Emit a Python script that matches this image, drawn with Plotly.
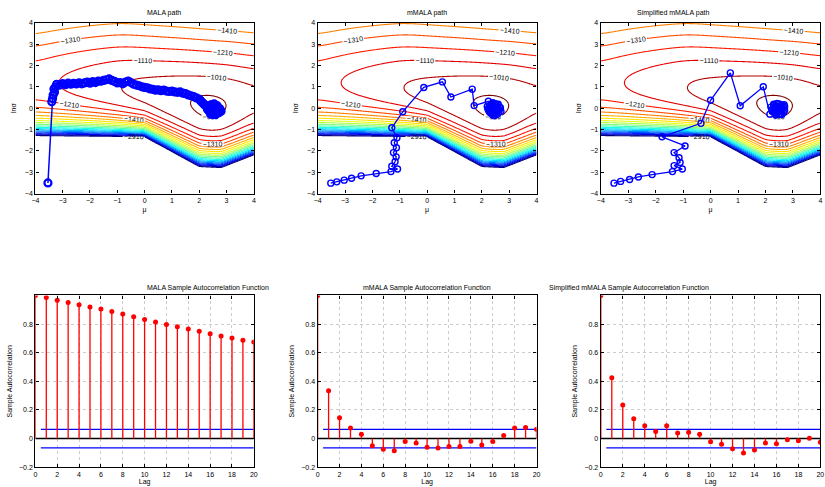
import numpy as np
import plotly.graph_objects as go

# ---------------- data ----------------
# log-density surface: ridge (crest) line, crest height, lower cliff
ridge_mu = [-4.0, -3.15, -2.0, -0.87, 0.5, 1.5, 2.4, 3.2, 4.0]
ridge_s = [1.2, 1.2, 1.12, 0.98, 0.6, 0.3, 0.0, 0.15, 0.4]
ridge_z = [-1150, -1110, -1060, -1010, -960, -918, -878, -918, -990]
cliff_mu = [-4.0, 0.0, 2.0, 2.8, 4.0]
cliff_s = [-1.3, -1.35, -2.75, -2.8, -2.2]
cliff_z = -2960
upper_slope = 215.0
upper_tau = 1.5
lower_beta = 3.3
level_lo, level_hi, level_step = -2910, -910, 100

# sampler paths (mu, ln sigma)
mala_mu = [-3.54, -3.40, -3.37, -3.35, -3.30, -3.32, -3.26, -3.22, -3.10, -3.00, -2.90, -2.80, -2.70, -2.60,
           -2.50, -2.40, -2.30, -2.20, -2.10, -2.00, -1.90, -1.80, -1.70, -1.60, -1.50, -1.40, -1.30, -1.20,
           -1.10, -1.00, -0.90, -0.80, -0.70, -0.60, -0.50, -0.40, -0.30, -0.20, -0.10, 0.00, 0.10, 0.20,
           0.30, 0.40, 0.50, 0.60, 0.70, 0.80, 0.90, 1.00, 1.10, 1.20, 1.30, 1.40, 1.50, 1.60, 1.70, 1.80,
           1.90, 2.00, 2.05, 2.10, 2.15, 2.20, 2.30, 2.45, 2.60, 2.70, 2.55, 2.40, 2.30, 2.50, 2.65, 2.75,
           2.60, 2.45, 2.35, 2.55, 2.70, 2.50, 2.40, 2.62, 2.80, 2.48, 2.35, 2.58, 2.42, 2.68, 2.52, 2.33,
           2.72, 2.46, 2.57, 2.38, 2.64, 2.51, 2.44, 2.78, 2.29, 2.60]
mala_s = [-3.50, 0.30, 0.45, 0.62, 0.75, 0.90, 1.00, 1.12, 1.08, 1.15, 1.10, 1.17, 1.12, 1.16,
          1.13, 1.19, 1.14, 1.18, 1.22, 1.17, 1.24, 1.20, 1.27, 1.26, 1.30, 1.33, 1.37, 1.30,
          1.25, 1.18, 1.20, 1.14, 1.22, 1.27, 1.20, 1.12, 1.08, 1.05, 1.00, 0.97, 0.95, 0.90,
          0.88, 0.84, 0.86, 0.82, 0.85, 0.80, 0.78, 0.80, 0.76, 0.74, 0.76, 0.70, 0.68, 0.62, 0.58, 0.54,
          0.48, 0.42, 0.35, 0.28, 0.22, 0.15, 0.10, 0.15, 0.05, -0.10, -0.25, -0.20, -0.05, 0.00, 0.12, -0.02,
          -0.30, -0.10, 0.05, 0.20, -0.20, -0.30, 0.08, -0.12, -0.15, -0.18, -0.12, 0.08, -0.28, -0.06, 0.10,
          0.00, -0.22, 0.04, -0.16, -0.08, 0.02, -0.24, 0.16, -0.10, 0.12, -0.02]

mmala_mu = [-3.52, -3.30, -3.03, -2.76, -2.41, -1.86, -1.32, -1.08, -1.29, -1.17, -1.13, -1.23, -1.12,
            -1.20, -1.10, -1.29, -0.89, -0.12, 0.56, 0.87, 1.65, 1.72, 2.24, 2.35, 2.50, 2.60, 2.30, 2.45,
            2.65, 2.40, 2.25, 2.55, 2.70, 2.35, 2.48, 2.30, 2.60, 2.42, 2.20, 2.52, 2.38, 2.62, 2.28, 2.46,
            2.56, 2.33, 2.68, 2.41, 2.22, 2.58, 2.36, 2.50, 2.44, 2.27, 2.64]
mmala_s = [-3.51, -3.45, -3.37, -3.28, -3.17, -3.06, -2.97, -2.85, -2.72, -2.51, -2.28, -2.08, -1.85,
           -1.62, -1.38, -0.92, -0.17, 0.97, 1.23, 0.52, 0.89, 0.12, 0.32, 0.10, 0.20, -0.05, -0.20, -0.35,
           0.05, 0.25, -0.10, -0.30, -0.15, 0.15, -0.05, 0.00, 0.18, -0.25, 0.08, -0.12, -0.30, -0.20,
           0.12, 0.22, 0.06, -0.22, 0.02, -0.14, -0.04, 0.14, 0.20, -0.26, 0.04, -0.16, -0.08]

smmala_mu = [-3.52, -3.28, -2.95, -2.63, -2.13, -1.39, -1.03, -1.33, -1.11, -1.15, -1.33, -0.93, -1.77,
             -0.35, 0.00, 0.72, 1.08, 1.92, 2.16, 2.35, 2.50, 2.65, 2.40, 2.25, 2.55, 2.70, 2.30, 2.45,
             2.60, 2.20, 2.50, 2.38, 2.62, 2.28, 2.48, 2.42, 2.66, 2.33, 2.56, 2.24, 2.52, 2.70, 2.36,
             2.46, 2.60, 2.30, 2.58, 2.40, 2.68]
smmala_s = [-3.51, -3.43, -3.34, -3.22, -3.11, -2.97, -2.85, -2.69, -2.54, -2.32, -2.08, -1.77, -1.34,
            -0.71, 0.37, 1.65, 0.11, 1.00, -0.28, 0.10, 0.20, 0.05, -0.25, -0.05, -0.30, -0.10, 0.18, 0.00,
            0.15, 0.05, -0.15, -0.32, -0.05, -0.18, 0.10, 0.22, -0.20, -0.10, 0.12, -0.12, -0.26, 0.08,
            0.04, -0.08, -0.28, 0.14, 0.02, -0.22, 0.16]

# sample autocorrelation functions, lags 0..20
lags = list(range(21))
acf_mala = [1.0, 0.985, 0.967, 0.950, 0.935, 0.920, 0.905, 0.888, 0.870, 0.852, 0.832,
            0.815, 0.798, 0.782, 0.766, 0.750, 0.732, 0.716, 0.702, 0.688, 0.675]
acf_mmala = [1.0, 0.335, 0.145, 0.075, 0.030, -0.050, -0.075, -0.085, -0.020, -0.030, -0.060,
             -0.065, -0.055, -0.055, -0.018, -0.045, -0.020, 0.022, 0.075, 0.078, 0.065]
acf_smmala = [1.0, 0.425, 0.235, 0.138, 0.090, 0.050, 0.090, 0.040, 0.045, 0.030, -0.022,
              -0.040, -0.070, -0.100, -0.080, -0.030, -0.035, -0.008, -0.015, 0.002, -0.025]
conf_bound = 0.065
conf_start = 0.5

top_titles = ["MALA path", "mMALA path", "Simplified mMALA path"]
bottom_titles = ["MALA Sample Autocorrelation Function", "mMALA Sample Autocorrelation Function",
                 "Simplified mMALA Sample Autocorrelation Function"]

# ---------------- build the surface ----------------
mu_grid = np.linspace(-4, 4, 241)
s_grid = np.linspace(-4, 4, 241)
fine = np.linspace(-6, 6, 1201)


def smooth_profile(xk, yk, sigma):
    y = np.interp(fine, xk, yk)
    if sigma > 0:
        n = int(4 * sigma / 0.01)
        k = np.exp(-0.5 * (np.arange(-n, n + 1) * 0.01 / sigma) ** 2)
        k /= k.sum()
        ypad = np.concatenate([np.full(n, y[0]), y, np.full(n, y[-1])])
        y = np.convolve(ypad, k, mode="valid")
    return np.interp(mu_grid, fine, y)


R = smooth_profile(ridge_mu, ridge_s, 0.35)[None, :]
ZR = smooth_profile(ridge_mu, ridge_z, 0.35)[None, :]
C = smooth_profile(cliff_mu, cliff_s, 0.04)[None, :]
S = s_grid[:, None]
t = S - R
upper = ZR - upper_slope * (np.sqrt(t ** 2 + upper_tau ** 2) - upper_tau)
xx = np.clip((R - S) / (R - C), 0, None)
hh = (np.exp(lower_beta * xx) - 1 - lower_beta * xx) / (np.exp(lower_beta) - 1 - lower_beta)
lower = ZR - (ZR - cliff_z) * hh
Z = np.where(t >= 0, upper, lower)


def jet(f):
    r = min(max(1.5 - abs(4 * f - 3), 0), 1)
    g = min(max(1.5 - abs(4 * f - 2), 0), 1)
    b = min(max(1.5 - abs(4 * f - 1), 0), 1)
    return "rgb(%d,%d,%d)" % (round(r * 255), round(g * 255), round(b * 255))


def level_scale(levels):
    cols = [jet((lv - level_lo) / (level_hi - level_lo)) for lv in levels]
    if len(levels) == 1:
        return [[0, cols[0]], [1, cols[0]]]
    n = len(levels) - 1
    return [[i / n, c] for i, c in enumerate(cols)]


fig = go.Figure()

xdom = [[0.0384, 0.3058], [0.3839, 0.6518], [0.7305, 0.9992]]
ydom_top = [0.605, 0.961]
ydom_bot = [0.0349, 0.3928]
font_family = "Liberation Sans, Arial, sans-serif"
fs = 7

paths = [(mala_mu, mala_s), (mmala_mu, mmala_s), (smmala_mu, smmala_s)]
path_style = [dict(lw=1.5, ms=7, mlw=2.2), dict(lw=1.3, ms=6, mlw=1.4), dict(lw=1.3, ms=6, mlw=1.4)]
acfs = [acf_mala, acf_mmala, acf_smmala]

label_groups = [
    (list(range(-1410, level_hi + 1, level_step)), True),
    (list(range(-2810, -1510 + 1, level_step)), False),
    ([level_lo], True),
]

for i in range(3):
    xa = "x%d" % (i + 1) if i else "x"
    ya = "y%d" % (i + 1) if i else "y"
    for levs, lab in label_groups:
        fig.add_trace(go.Contour(
            x=mu_grid, y=s_grid, z=Z, xaxis=xa, yaxis=ya,
            autocontour=False,
            contours=dict(coloring="lines", start=levs[0], end=levs[-1] + (0.5 if len(levs) == 1 else 0),
                          size=level_step, showlabels=lab,
                          labelfont=dict(size=7, color="black", family=font_family)),
            line=dict(width=1.1), colorscale=level_scale(levs), showscale=False, hoverinfo="skip"))
    pm, ps = paths[i]
    st = path_style[i]
    fig.add_trace(go.Scatter(x=pm, y=ps, xaxis=xa, yaxis=ya, mode="lines+markers",
                             line=dict(color="rgb(0,0,255)", width=st["lw"]),
                             marker=dict(symbol="circle-open", size=st["ms"], color="rgb(0,0,255)",
                                         line=dict(width=st["mlw"])),
                             showlegend=False, hoverinfo="skip"))

for i in range(3):
    xa = "x%d" % (i + 4)
    ya = "y%d" % (i + 4)
    acf = acfs[i]
    lag_max = lags[-1]
    fig.add_trace(go.Scatter(x=[0, lag_max], y=[0, 0], xaxis=xa, yaxis=ya, mode="lines",
                             line=dict(color="black", width=1.5), showlegend=False, hoverinfo="skip"))
    for sign in (1, -1):
        fig.add_trace(go.Scatter(x=[conf_start, lag_max], y=[sign * conf_bound] * 2, xaxis=xa, yaxis=ya,
                                 mode="lines", line=dict(color="rgb(0,0,255)", width=1.3),
                                 showlegend=False, hoverinfo="skip"))
    sx, sy = [], []
    for k, v in zip(lags, acf):
        sx += [k, k, None]
        sy += [0, v, None]
    fig.add_trace(go.Scatter(x=sx, y=sy, xaxis=xa, yaxis=ya, mode="lines",
                             line=dict(color="rgb(255,0,0)", width=1.3), showlegend=False, hoverinfo="skip"))
    fig.add_trace(go.Scatter(x=lags, y=acf, xaxis=xa, yaxis=ya, mode="markers",
                             marker=dict(color="rgb(255,0,0)", size=5, symbol="circle"),
                             showlegend=False, hoverinfo="skip"))

axis_common = dict(showline=True, linecolor="black", linewidth=1.3, mirror="ticks", ticks="inside",
                   ticklen=3, tickcolor="black", zeroline=False,
                   tickfont=dict(family=font_family, size=fs, color="black"))
layout = dict(width=825, height=487, margin=dict(l=0, r=0, t=0, b=0),
              paper_bgcolor="white", plot_bgcolor="white", showlegend=False,
              font=dict(family=font_family, size=fs, color="black"))
annotations = []
for i in range(3):
    kx = "xaxis%d" % (i + 1) if i else "xaxis"
    ky = "yaxis%d" % (i + 1) if i else "yaxis"
    ya = "y%d" % (i + 1) if i else "y"
    xa = "x%d" % (i + 1) if i else "x"
    layout[kx] = dict(axis_common, domain=xdom[i], range=[-4, 4], dtick=1, anchor=ya, showgrid=False,
                      title=dict(text="μ", standoff=3, font=dict(size=fs)))
    layout[ky] = dict(axis_common, domain=ydom_top, range=[-4, 4], dtick=1, anchor=xa, showgrid=False,
                      title=dict(text="lnσ", standoff=7, font=dict(size=fs)))
    annotations.append(dict(text=top_titles[i], x=(xdom[i][0] + xdom[i][1]) / 2, y=ydom_top[1] + 0.008,
                            xref="paper", yref="paper", showarrow=False, yanchor="bottom",
                            font=dict(size=fs, family=font_family)))
for i in range(3):
    kx = "xaxis%d" % (i + 4)
    ky = "yaxis%d" % (i + 4)
    layout[kx] = dict(axis_common, domain=xdom[i], range=[0, 20], dtick=2, anchor="y%d" % (i + 4),
                      showgrid=True, gridcolor="#cccccc", griddash="dot", gridwidth=1,
                      title=dict(text="Lag", standoff=1, font=dict(size=fs)))
    layout[ky] = dict(axis_common, domain=ydom_bot, range=[-0.2, 1.0],
                      tickvals=[-0.2, 0, 0.2, 0.4, 0.6, 0.8], ticktext=["−0.2", "0", "0.2", "0.4", "0.6", "0.8"],
                      anchor="x%d" % (i + 4), showgrid=True, gridcolor="#cccccc", griddash="dot", gridwidth=1,
                      title=dict(text="Sample Autocorrelation", standoff=5, font=dict(size=fs)))
    annotations.append(dict(text=bottom_titles[i], x=(xdom[i][0] + xdom[i][1]) / 2, y=ydom_bot[1] + 0.004,
                            xref="paper", yref="paper", showarrow=False, yanchor="bottom",
                            font=dict(size=fs, family=font_family)))
layout["annotations"] = annotations
fig.update_layout(**layout)
fig.write_html("out.html")
